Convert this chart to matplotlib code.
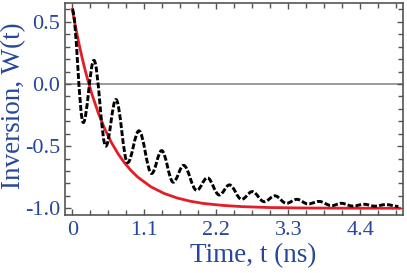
import matplotlib
matplotlib.use("Agg")
import matplotlib.pyplot as plt
from matplotlib.path import Path
from matplotlib.patches import PathPatch
from matplotlib.ticker import MultipleLocator

# black dashed curve: peaks and troughs (t in ns)
t_ext = [0.0, 0.168, 0.331, 0.512, 0.667, 0.845, 1.018, 1.212, 1.365, 1.542,
         1.70, 1.90, 2.062, 2.245, 2.40, 2.586, 2.748, 2.931, 3.095, 3.27,
         3.43, 3.60, 3.77, 3.96, 4.11, 4.28, 4.46, 4.62, 4.79, 4.98]
w_ext = [0.60, -0.31, 0.19, -0.50, -0.125, -0.633, -0.377, -0.72, -0.536, -0.79,
         -0.655, -0.856, -0.755, -0.893, -0.812, -0.928, -0.866, -0.947, -0.90, -0.96,
         -0.928, -0.965, -0.945, -0.979, -0.96, -0.982, -0.968, -0.983, -0.970, -0.985]

# red curve
t_red = [0.0, 0.05, 0.1, 0.15, 0.2, 0.25, 0.3, 0.4, 0.5, 0.6, 0.7, 0.8, 0.9, 1.0,
         1.2, 1.4, 1.6, 1.8, 2.0, 2.3, 2.6, 3.0, 3.5, 4.0, 5.0]
w_red = [0.60, 0.459, 0.330, 0.212, 0.105, 0.007, -0.082, -0.237, -0.366, -0.473,
         -0.562, -0.636, -0.698, -0.749, -0.827, -0.880, -0.917, -0.943, -0.961,
         -0.977, -0.987, -0.994, -0.9975, -0.999, -1.0]

xticks = [0, 1.1, 2.2, 3.3, 4.4]
xticklabels = ["0", "1.1", "2.2", "3.3", "4.4"]
yticks = [-1.0, -0.5, 0.0, 0.5]
yticklabels = ["-1.0", "-0.5", "0.0", "0.5"]

blue = "#27479b"
frame = "#555555"
plt.rcParams["axes.unicode_minus"] = False

fig = plt.figure(figsize=(4.07, 2.73), dpi=100)
ax = fig.add_axes([0.1597, 0.2125, 0.8305, 0.7766])

ax.axhline(0, color="#808080", lw=1.1, zorder=1)
ax.plot(t_red, w_red, color="#e41e26", lw=2.0, zorder=2)

# smooth curve through the extrema, flat tangent at each peak/trough
k = 0.364
verts = [(t_ext[0], w_ext[0])]
codes = [Path.MOVETO]
for i in range(len(t_ext) - 1):
    dt = t_ext[i + 1] - t_ext[i]
    verts.append((t_ext[i] + k * dt, w_ext[i]))
    verts.append((t_ext[i + 1] - k * dt, w_ext[i + 1]))
    verts.append((t_ext[i + 1], w_ext[i + 1]))
    codes += [Path.CURVE4] * 3
patch = PathPatch(Path(verts, codes), facecolor="none", edgecolor="black",
                  lw=2.1, linestyle=(0, (2.0, 0.75)), zorder=3)
ax.add_patch(patch)

ax.set_xlim(-0.111, 5.05)
ax.set_ylim(-1.054, 0.652)
ax.set_xticks(xticks)
ax.set_xticklabels(xticklabels)
ax.set_yticks(yticks)
ax.set_yticklabels(yticklabels)
ax.xaxis.set_minor_locator(MultipleLocator(0.275))
ax.yaxis.set_minor_locator(MultipleLocator(0.1))

ax.tick_params(which="both", direction="in", top=True, right=True,
               color=frame, width=1.0, labelcolor=blue, labelsize=16)
ax.tick_params(which="major", length=4)
ax.tick_params(which="minor", length=3.5)
ax.tick_params(axis="x", pad=4.5)
ax.tick_params(axis="y", pad=3.6)
for s in ax.spines.values():
    s.set_color(frame)
    s.set_linewidth(1.2)

for lab in ax.get_xticklabels() + ax.get_yticklabels():
    lab.set_family("Liberation Serif")

ax.set_xlabel("Time, t (ns)", fontsize=19.5, color=blue, family="Liberation Serif")
ax.set_ylabel("Inversion, W(t)", fontsize=19.5, color=blue, family="Liberation Serif")
ax.xaxis.set_label_coords(0.556, -0.135)
ax.yaxis.set_label_coords(-0.115, 0.516)

fig.savefig("out.png", dpi=100)
